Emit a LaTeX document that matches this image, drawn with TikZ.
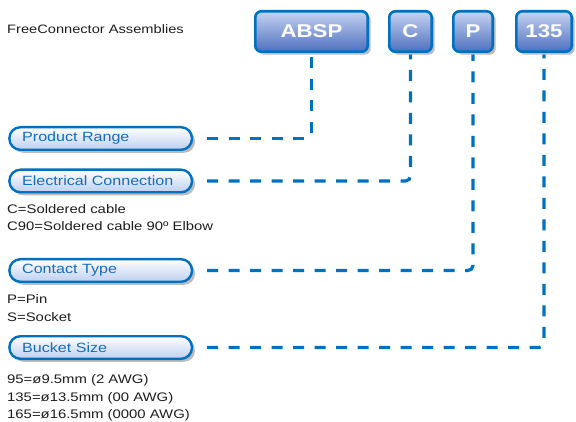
\documentclass[tikz,border=0pt]{standalone}
\usepackage{fontspec}
\setmainfont{Liberation Sans}[FakeStretch=1.2]
\usetikzlibrary{shadows,backgrounds}
\definecolor{lineblue}{RGB}{0,112,192}
\definecolor{boxtop}{RGB}{198,211,242}
\definecolor{boxbot}{RGB}{78,112,190}
\definecolor{pillbot}{RGB}{190,207,240}
\definecolor{labelblue}{RGB}{20,110,190}
\definecolor{shadowgrey}{RGB}{188,188,188}
\definecolor{desctext}{RGB}{30,30,30}
\begin{document}
\begin{tikzpicture}[x=1pt,y=-1pt,
  myshadow/.style={drop shadow={shadow xshift=3pt, shadow yshift=-3pt, fill=shadowgrey, opacity=1}},
  codebox/.style={draw=lineblue, line width=2.6pt, rounded corners=6pt,
    top color=boxtop, bottom color=boxbot, text=white,
    font=\bfseries\fontsize{18.5}{20}\selectfont,
    minimum height=40.4pt, inner sep=0pt, myshadow},
  pill/.style={draw=lineblue, line width=2.4pt, rounded corners=11pt,
    top color=white, bottom color=pillbot, text=labelblue,
    font=\fontsize{13.4}{15}\selectfont,
    minimum height=22.6pt, text width=157pt, inner xsep=12.8pt, inner ysep=0pt,
    align=left, anchor=west, myshadow},
  desc/.style={font=\fontsize{12.4}{17.5}\selectfont, text=desctext, align=left,
    inner sep=0pt, anchor=base west},
  conn/.style={draw=lineblue, line width=3.2pt, dash pattern=on 11pt off 10.5pt,
    rounded corners=5pt}
]
\useasboundingbox (0,0) rectangle (576,422);

% title
\node[desc, font=\fontsize{12.2}{14}\selectfont] (title) at (7,34) {FreeConnector Assemblies};

% code boxes
\node[codebox, minimum width=112.4pt] (absp) at (311.5,31.5) {ABSP};
\node[codebox, minimum width=42.4pt]  (c)    at (410.5,31.5) {C};
\node[codebox, minimum width=39.4pt]  (p)    at (473,31.5)   {P};
\node[codebox, minimum width=55.4pt]  (n135) at (544,31.5)   {135};

% label pills
\node[pill] (pr) at (8.2,138.5) {Product Range};
\node[pill] (ec) at (8.2,181)   {Electrical Connection};
\node[pill] (ct) at (8.2,270.5) {Contact Type};
\node[pill] (bs) at (8.2,347.5) {Bucket Size};

% descriptions (base anchor = baseline of last line)
\node[desc] (ecd) at (7,231)   {C=Soldered cable\\C90=Soldered cable 90º Elbow};
\node[desc] (ctd) at (7,321)   {P=Pin\\S=Socket};
\node[desc] (bsd) at (7,418.5) {95=ø9.5mm (2 AWG)\\135=ø13.5mm (00 AWG)\\165=ø16.5mm (0000 AWG)};

% connectors
\begin{scope}[on background layer]
\draw[conn] ([xshift=14pt]pr.east) -| (absp.south);
\draw[conn] ([xshift=14pt]ec.east) -| (c.south);
\draw[conn] ([xshift=14pt]ct.east) -| (p.south);
\draw[conn] ([xshift=14pt]bs.east) -| (n135.south);
\end{scope}
\end{tikzpicture}
\end{document}
